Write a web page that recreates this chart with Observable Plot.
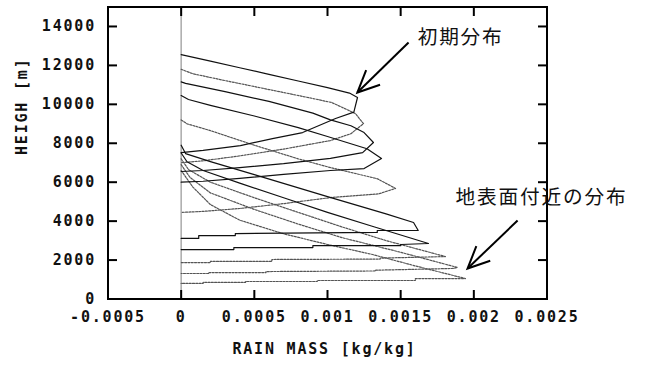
<!DOCTYPE html>
<html>
<head>
<meta charset="utf-8">
<script src="https://cdn.jsdelivr.net/npm/d3@7"></script>
<script src="https://cdn.jsdelivr.net/npm/@observablehq/plot@0.6"></script>
<style>
  html, body { margin: 0; padding: 0; background: #fff; }
</style>
</head>
<body>
<div id="chart"></div>
<script>
// ---- data: rain-mass profiles [rain mass (kg/kg), height (m)] ----
const p1 = [[0,12550],[0.0002,12220],[0.0004,11880],[0.0006,11540],[0.0008,11200],[0.001,10860],[0.00115,10580],[0.001205,10350],[0.00118,9600],[0.001055,9270],[0.00083,8550],[0.000624,8240],[0.000405,7880],[0.00015,7630],[0,7520]];
const p2 = [[0,11800],[0.00008,11570],[0.0003,11220],[0.0006,10760],[0.0009,10300],[0.00103,10090],[0.00119,9530],[0.001246,9010],[0.00116,8490],[0.00102,8140],[0.0007,7700],[0.0004,7350],[0.00015,7100],[0,7000]];
const p3 = [[0,11150],[0.00003,11080],[0.0003,10650],[0.0006,10150],[0.0009,9550],[0.00102,9200],[0.00116,8900],[0.00125,8550],[0.001314,8040],[0.00124,7520],[0.00102,7220],[0.0007,6950],[0.0004,6750],[0.00015,6600],[0,6550]];
const p4 = [[0,10450],[0.00005,10250],[0.0002,9950],[0.0005,9400],[0.0008,8800],[0.001,8350],[0.00127,7720],[0.001369,7220],[0.00125,6700],[0.00102,6600],[0.0007,6400],[0.0004,6200],[0.00015,6050],[0,6000]];
const p5 = [[0,9200],[0.00004,9000],[0.0002,8650],[0.0005,7900],[0.0008,7200],[0.00102,6750],[0.00134,6180],[0.001465,5680],[0.00135,5400],[0.00102,5210],[0.0007,4900],[0.0004,4650],[0.00015,4500],[0,4450]];
const p6 = [[0,7900],[0.00003,7470],[0.0002,7060],[0.0005,6390],[0.001,5260],[0.0014,4370],[0.001588,3930],[0.00162,3520],[0.00134,3520],[0.00134,3420],[0.00037,3360],[0.00037,3260],[0.00012,3260],[0.00012,3110],[0,3110]];
const p7 = [[0,7500],[0.00004,7050],[0.00015,6600],[0.0004,5950],[0.0007,5200],[0.001,4450],[0.0013,3750],[0.00169,2850],[0.0015,2800],[0.0015,2740],[0.0009,2740],[0.0009,2640],[0.00036,2640],[0.00036,2540],[0,2540]];
const p8 = [[0,7200],[0.00005,6650],[0.0002,6000],[0.0005,5200],[0.0008,4450],[0.0011,3700],[0.0014,3000],[0.001806,2180],[0.00136,2100],[0.00136,2050],[0.00062,2030],[0.00062,1930],[0.0002,1930],[0.0002,1870],[0,1870]];
const p9 = [[0,6900],[0.00006,6250],[0.0002,5450],[0.0005,4600],[0.0008,3850],[0.0011,3150],[0.0015,2400],[0.001888,1620],[0.00186,1570],[0.00133,1480],[0.00133,1440],[0.00058,1410],[0.00058,1360],[0.00019,1360],[0.00019,1310],[0,1310]];
const p10 = [[0,6600],[0.00008,5750],[0.0002,4850],[0.0004,4050],[0.0007,3350],[0.001,2800],[0.0013,2300],[0.0016,1700],[0.001943,1050],[0.0016,1050],[0.0016,950],[0.00093,950],[0.00093,900],[0.00044,900],[0.00044,850],[0.00015,850],[0.00015,800],[0,800]];

const xTicks = [-0.0005, 0, 0.0005, 0.001, 0.0015, 0.002, 0.0025];
const yTicks = [0, 2000, 4000, 6000, 8000, 10000, 12000, 14000];
const xLabel = "RAIN MASS [kg/kg]";
const yLabel = "HEIGH [m]";

const annoText = ["初期分布", "地表面付近の分布"];
const annoTextX = [0.001616, 0.001875];
const annoTextY = [13405, 5213];
const arrowFromX = [0.001554, 0.002299];
const arrowFromY = [13174, 4032];
const arrowToX = [0.001204, 0.001957];
const arrowToY = [10606, 1566];

// ---- build tables ----
const profiles = [p1, p2, p3, p4, p5, p6, p7, p8, p9, p10];
const solidSet = new Set([1, 3, 4, 6, 7]);
const rows = profiles.flatMap((p, i) => p.map(([x, h]) => ({x, h, profile: i + 1})));
const solidRows = rows.filter(d => solidSet.has(d.profile));
const dottedRows = rows.filter(d => !solidSet.has(d.profile));
const annos = annoText.map((t, i) => ({t, x: annoTextX[i], y: annoTextY[i]}));
const arrows = arrowFromX.map((_, i) => ({x1: arrowFromX[i], y1: arrowFromY[i], x2: arrowToX[i], y2: arrowToY[i]}));

// custom symbols: inward tick marks and an open arrowhead (pixel geometry only)
const TICK = 9;
const tickUp = {draw(c) { c.moveTo(0, 0); c.lineTo(0, -TICK); }};
const tickDown = {draw(c) { c.moveTo(0, 0); c.lineTo(0, TICK); }};
const tickRight = {draw(c) { c.moveTo(0, 0); c.lineTo(TICK, 0); }};
const tickLeft = {draw(c) { c.moveTo(0, 0); c.lineTo(-TICK, 0); }};
const headSym = {draw(c) { c.moveTo(8.8, -22.3); c.lineTo(0, 0); c.lineTo(22.7, -7.8); }};
const tickStyle = {fill: "none", stroke: "#000", strokeWidth: 2, r: 4};

const chart = Plot.plot({
  width: 647,
  height: 367,
  marginLeft: 107.5,
  marginRight: 100.5,
  marginTop: 6.5,
  marginBottom: 68.5,
  x: {domain: [-0.0005, 0.0025]},
  y: {domain: [0, 15000]},
  style: {fontFamily: "'DejaVu Sans Mono', monospace", fontSize: "15px", fontWeight: "bold", background: "#fff", color: "#111", letterSpacing: "1.8px"},
  marks: [
    Plot.ruleX([0], {stroke: "#555", strokeWidth: 1.5, strokeDasharray: "1,1"}),
    Plot.line(dottedRows, {x: "x", y: "h", z: "profile", stroke: "#555", strokeWidth: 1.2, strokeDasharray: "2,1.3", curve: "linear"}),
    Plot.line(solidRows, {x: "x", y: "h", z: "profile", stroke: "#111", strokeWidth: 1.2, curve: "linear"}),
    Plot.frame({stroke: "#000", strokeWidth: 2}),
    // inward ticks on all four sides
    Plot.dot(xTicks, {x: d => d, frameAnchor: "bottom", symbol: tickUp, ...tickStyle}),
    Plot.dot(xTicks, {x: d => d, frameAnchor: "top", symbol: tickDown, ...tickStyle}),
    Plot.dot(yTicks, {y: d => d, frameAnchor: "left", symbol: tickRight, ...tickStyle}),
    Plot.dot(yTicks, {y: d => d, frameAnchor: "right", symbol: tickLeft, ...tickStyle}),
    // tick labels
    Plot.axisX({anchor: "bottom", ticks: xTicks, tickSize: 0, tickPadding: 12, tickFormat: d => String(d), label: null, fill: "#111"}),
    Plot.axisY({anchor: "left", ticks: yTicks, tickSize: 0, tickPadding: 12, tickFormat: d => String(d), label: null, fill: "#111"}),
    // axis titles
    Plot.text([xLabel], {frameAnchor: "bottom", dy: 55, dx: -3, text: d => d, fill: "#111"}),
    Plot.text([yLabel], {frameAnchor: "left", dx: -86, dy: 2, rotate: -90, text: d => d, fill: "#111"}),
    // annotations
    Plot.link(arrows, {x1: "x1", y1: "y1", x2: "x2", y2: "y2", stroke: "#000", strokeWidth: 2}),
    Plot.dot(arrows, {x: "x2", y: "y2", symbol: headSym, fill: "none", stroke: "#000", strokeWidth: 2, r: 4}),
    Plot.text(annos, {x: "x", y: "y", text: "t", textAnchor: "start", fontFamily: "'Noto Sans CJK JP'", fontSize: 19.7, fontWeight: "normal", fill: "#111", clip: false})
  ]
});
document.getElementById("chart").appendChild(chart);
</script>
</body>
</html>
